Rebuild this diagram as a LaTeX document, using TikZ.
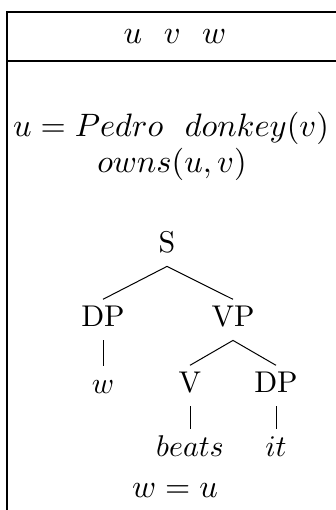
\documentclass[tikz,border=0pt]{standalone}
\tikzset{
    frame/.style={line width=0.6pt},
    cond/.style={anchor=base, inner sep=0pt, scale=1.62},
    cat/.style={anchor=base, inner sep=0pt, text height=8.7pt, text depth=4.6pt,
                scale=1.5},
    branch/.style={line width=0.5pt},
}
\begin{document}
\begin{tikzpicture}[x=0.5pt, y=-0.5pt]

    \useasboundingbox (0,0) rectangle (336,510);
    % the box, open on the right and at the bottom
    \draw[frame] (7,510) -- (7,12) -- (336,12);
    \draw[frame] (7,61) -- (336,61);

    \node[cond] (referents) at (175,43) {$u$~~$v$~~$w$};
    \node[cond] (pedro) at (171,136) {$u = Pedro$~~$donkey(v)$};
    \node[cond] (owns) at (172,172) {$owns(u,v)$};

    % the tree
    \node[cat] (s) at (167,252) {S};
    \node[cat] (dp) at (103,326) {DP};
    \node[cat] (vp) at (233,326) {VP};
    \node[cat] (w) at (103,393) {$w$};
    \node[cat] (v) at (190,392) {V};
    \node[cat] (obj) at (276,392) {DP};
    \node[cat] (beats) at (190,456) {$beats$};
    \node[cat] (it) at (276,456) {$it$};
    \draw[branch] (s.south) -- (dp.north);
    \draw[branch] (s.south) -- (vp.north);
    \draw[branch] (dp.south) -- (w.north);
    \draw[branch] (vp.south) -- (v.north);
    \draw[branch] (vp.south) -- (obj.north);
    \draw[branch] (v.south) -- (beats.north);
    \draw[branch] (obj.south) -- (it.north);

    \node[cond] (equal) at (175,497) {$w = u$};

\end{tikzpicture}
\end{document}
